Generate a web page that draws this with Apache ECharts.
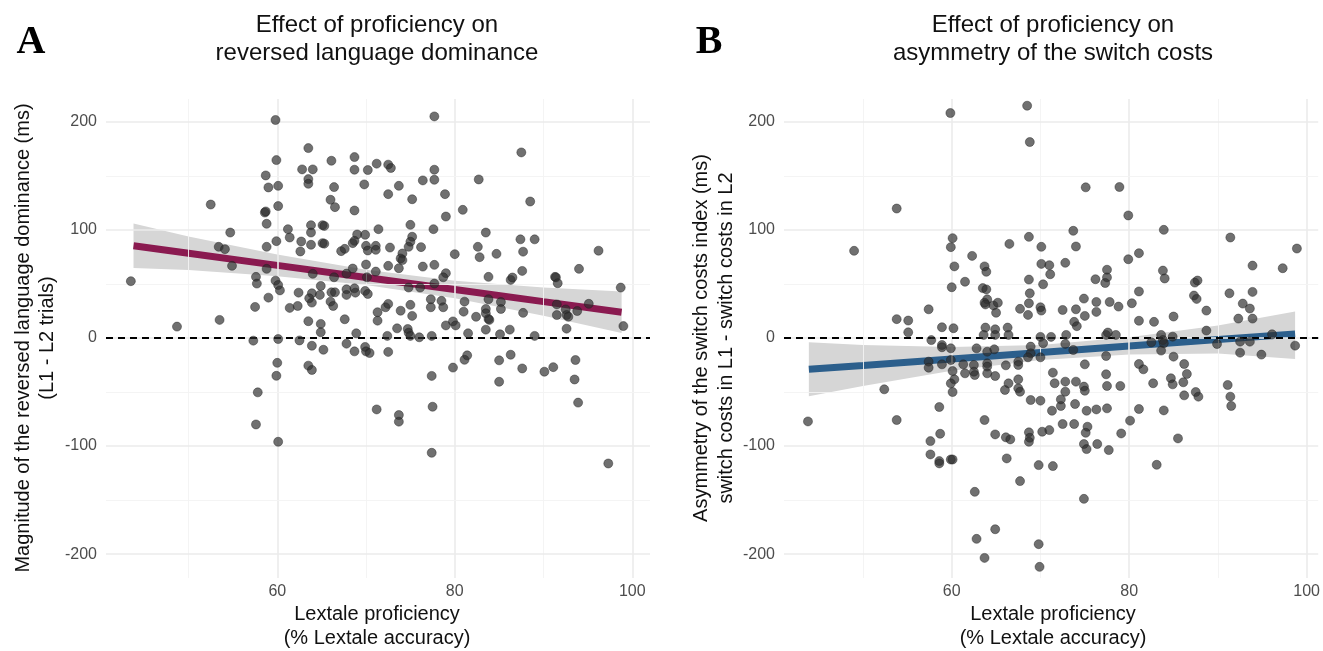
<!DOCTYPE html>
<html><head><meta charset="utf-8">
<script src="https://cdn.jsdelivr.net/npm/echarts@6/dist/echarts.min.js"></script>
<style>html,body{margin:0;padding:0;background:#fff}#c{width:1323px;height:651px}</style>
</head><body><div id="c"></div>
<script>
// ---------- DATA ----------
const pointsA = [
[59.8,201.6],[59.9,164.5],[58.7,150.3],[59.0,139.2],[60.1,140.7],[60.1,122],[52.5,123.4],[58.6,116],[58.7,117],[58.8,105.6],
[54.7,97.5],[53.4,84.3],[54.1,82.1],[58.8,84.3],[59.9,89.5],[54.9,66.7],[58.8,63.9],[43.5,52.5],[57.6,56.5],[57.7,50.3],
[59.8,53],[60.1,49],[60.3,44],[59.0,37.3],[57.5,28.7],[53.5,16.7],[48.7,10.5],[57.3,-2.5],[60.1,-1],[60,-23],
[59.9,-35],[57.8,-50.3],[57.6,-80],[60.1,-96],
[77.7,204.9],[63.5,175.6],[62.8,155.9],[64.0,155.9],[66.1,163.9],[68.7,167.3],[68.7,155.6],[71.2,161.2],[72.5,160.3],[72.8,157.2],
[70.2,155.3],[63.5,146.9],[63.5,142.6],[66.4,139.5],[69.8,142],[73.7,140.7],[76.4,145.7],[77.7,155.6],[77.7,146.3],[72.5,133],
[66,127.8],[66.5,121],[68.7,117.9],[75.2,128.3],[78.9,133],[79,112.3],[80.9,118.5],[61.2,100.6],[61.4,92.9],[63.8,104.3],
[63.8,97.5],[65.1,104.3],[65.3,103.6],[62.7,89.2],[62.6,80],[63.8,86.2],[65.1,87.7],[65.3,87.2],[67.2,80.3],[67.6,82.4],
[69,95.7],[68.7,89.8],[68.5,87.7],[69.9,95.4],[71.4,100.6],[70.0,85.2],[70.2,80.9],[71.1,85.2],[71.1,81.5],[72.7,83.6],
[75,104.6],[75.2,93.6],[75.0,89],[74.8,84.3],[74.1,78.1],[73.9,73.5],[74.1,72],[76.2,84],[77.6,100.6],[80,77.5],
[64,59.3],[66.4,56.1],[67.8,59.5],[68.5,64.2],[70.0,67.9],[70.1,56.1],[71.1,61.4],[72.5,66.7],[73.7,64.5],[76.4,66],
[77.7,67.6],[79,59.9],[78.7,56.1],[77.7,50.3],[64.9,48.1],[62.4,41.9],[63.9,41.3],[63.6,36.7],[63.9,32.7],[64.8,39.8],
[66.1,42.2],[66.5,42.2],[66,33.6],[66.3,29.6],[67.8,45],[67.8,39.8],[68.7,45.9],[68.8,41.9],[69.9,43.5],[70.2,40.7],
[74.8,46.6],[76.1,46.6],[77.3,35.8],[77.3,28.4],[78.5,34.3],[78.7,28.4],[81.1,33.6],[81,24.3],[61.4,27.8],[62.3,29.6],
[71.3,23.8],[72.2,28.4],[72.5,31.5],[71.3,16],[73.9,25.2],[75,30.6],[75.2,20.4],[63.5,15.5],[64.9,13],[64.9,5.3],
[67.6,17.3],[68.9,4.3],[73.5,8.9],[74.7,8.3],[74.8,4.9],[75,1.9],[76,0.6],[77.4,1.9],[79,11.6],[79.8,15.3],
[80.1,11.6],[72.4,1.9],[62.5,-2.3],[63.9,-7.2],[65.2,-10.9],[67.8,-5.3],[68.7,-12.4],[69.9,-8.3],[70,-12.4],[70.4,-13.9],
[72.5,-12.9],[63.5,-25.6],[63.9,-29.6],[79.8,-27.4],[81.1,-20.2],[77.4,-35.1],[71.2,-66.1],[73.7,-71.3],[73.7,-77.4],[77.5,-63.6],
[77.4,-106.2],
[87.5,171.6],[82.7,146.6],[88.5,126.2],[83.5,97.5],[82.6,84.3],[82.8,74.7],[84.7,77.8],[87.4,91.2],[89,91.2],[87.7,79.8],
[96.2,80.7],[83.8,56.5],[86.3,53.7],[86.5,55.9],[87.6,62],[91.3,56.5],[91.4,56.0],[91.6,50.6],[94,63.9],[98.7,46.6],
[82.4,19.6],[83.5,26.8],[83.5,22.8],[83.8,17.6],[83.9,16.7],[83.8,35.8],[85.2,33.3],[85.2,26.8],[87.7,23.2],[91.5,31],
[91.5,21.2],[92.5,26.4],[92.6,21.2],[92.8,19.6],[93.8,24.9],[95.1,31.6],[99,11],[81.5,4.3],[83.5,7.7],[85.1,3.4],
[86.2,7.7],[89,1.9],[92.6,8.6],[81.4,-16.1],[85.0,-20.7],[86.3,-15.5],[87.6,-28.2],[85,-40.5],[90.1,-31.2],[91.1,-27],
[93.6,-20.4],[93.5,-38.4],[93.9,-59.8],[97.3,-116.1]
];
const pointsB = [
[59.85,208],[53.8,119.7],[49,80.6],[60.1,92.3],[59.9,84],[60.3,66.2],[60,46.9],[57.4,26.5],[53.8,17.4],[55.1,16.1],
[55.1,5.2],[58.9,9.9],[60.2,9],[57.7,-2],
[58.9,-6.5],[58.9,-8.6],[59.9,-9.6],[57.4,-21.9],[57.4,-27.5],[58.9,-24.4],[59.9,-20.4],[60.1,-30.6],[60.3,-38.3],[59.9,-42],
[60.1,-50],[52.4,-47.5],[58.6,-63.9],[53.8,-75.9],[43.8,-77.2],[58.7,-88.6],[57.6,-95.4],[57.6,-107.7],[58.6,-113.9],[58.6,-116],
[59.9,-112.4],[60.1,-112.4],
[68.5,214.8],[68.8,181.2],[75.1,139.3],[78.9,139.6],[79.9,113.3],[68.7,93.5],[66.5,87],[62.3,75.9],[63.7,66.2],[63.9,61.2],
[70.1,84.3],[70.1,68.5],[71,67.3],[71.1,58.9],[70.3,49.6],[68.7,54],[68.8,41.3],[73.7,99.1],[74,84.6],[72.8,69.5],
[77.5,63.1],[77.5,56],[77.3,50.8],[76.2,54.3],[79.9,72.8],[61.5,52],[63.5,46.1],[63.9,44.9],[64,35.7],[63.7,32.6],
[63.8,31],[64.7,30.1],[65.2,32.6],[65,23.3],[67.7,26.9],[68.7,32.1],[68.6,21.3],[70,28.4],[70.1,25.3],[72.5,25.9],
[74,26.5],[74.9,36.4],[75,20.4],[76.3,33.3],[76.3,24.1],[77.8,33.3],[78.8,29],[80.3,32.1],[73.8,14.9],[74.1,10.9],
[63.8,9.6],[63.6,2.8],[64.9,8],[64.9,2.8],[66.3,9.6],[66.4,2.8],[70,1],[71.2,1],[72.9,2.8],[77.4,2.8],
[77.6,5],[78.5,2.8],
[70.3,-4.9],[72.8,-5.5],[73.7,-11.1],[68.9,-8],[68.9,-14.2],[70,-17.9],[68.6,-17.9],[62.8,-9.6],[64,-12.7],[64.8,-10.5],
[64,-23.5],[64,-26.5],[61.3,-24.4],[61.5,-32.7],[62.5,-25],[62.5,-31.2],[62.6,-34.3],[64,-32.7],[64.9,-35.2],[66.1,-25.3],
[67.5,-21.9],[67.5,-25],[66,-48.1],[66.4,-42],[67.5,-38.3],[67.5,-46.6],[67.7,-49.7],[71.4,-32.1],[71.6,-41.9],[72.8,-40.4],
[74,-40.4],[74.9,-45],[75,-48.8],[75,-24.4],[77.4,-16.7],[77.4,-33.6],[77.5,-44.4],[79,-44.4],[68.9,-57.4],[70,-58],
[71.3,-67.3],[72.3,-62.9],[72.3,-56.8],[72.8,-49.7],[73.9,-61.1],[75.2,-67.3],[76.3,-66.1],[77.5,-65.1],[63.7,-75.9],[64.9,-89.2],
[66.1,-91.9],[66.6,-93.8],[68.7,-87.3],[68.8,-92.3],[68.7,-96],[70.2,-86.7],[71,-85.2],[72.5,-79.6],[73.8,-79.6],[75.3,-82.1],
[75.1,-87.7],[74.9,-98.1],[75.2,-102.8],[76.4,-98.1],[77.7,-103.7],[79.1,-88.3],[80.1,-76.5],[66.2,-111.4],[69.8,-117.6],[71.4,-118.5],
[67.7,-132.4],[62.6,-142.3],[74.9,-148.8],[64.9,-176.9],[62.8,-185.8],[69.8,-190.7],[63.7,-203.4],[69.9,-211.7],
[83.9,100],[81.1,78.4],[83.8,62.3],[84,55],[87.4,51.2],[87.7,53.1],[87.3,39.2],[87.6,36.1],[88.7,25.3],[81.1,43],
[81.1,15.9],[82.8,14.9],[85,19.8],[91.4,92.9],[93.9,66.9],[97.3,64.5],[98.9,82.7],[91.3,41.3],[92.8,31.8],[93.9,42.6],
[93.6,27.2],[92.3,17.9],[93.9,17.9],[88.7,6.8],[96.1,3.4],[83.6,2.8],[84.9,1.2],
[83.8,-1.9],[83.9,-4.9],[82.5,-4],[83.6,-11.7],[89.9,-5.6],[92.5,-3.4],[93.6,-3.4],[92.5,-13.6],[94.9,-15.4],[98.7,-7.1],
[85,-17.3],[81.1,-24.1],[81.6,-29],[82.7,-41.9],[86.2,-24.1],[86.5,-33.3],[86.1,-41],[84.7,-37.3],[84.9,-42.9],[86.2,-53.1],
[87.5,-50],[87.8,-54.3],[91.1,-43.5],[91.4,-54.3],[91.5,-62.9],[81.1,-65.7],[83.9,-67],[85.5,-92.9],[83.1,-117.3]
];

// fitted regression lines and confidence bands
const fitA_x  = [43.8, 50, 60, 70, 80, 90, 98.8];
const fitA_y  = [85.2, 78.3, 67.1, 56.0, 44.8, 33.6, 23.8];
const fitA_lo = [64.6, 62.8, 57.1, 49.0, 36.8, 20.6, 4.6];
const fitA_hi = [105.8, 93.8, 77.1, 63.0, 52.8, 46.6, 43.0];
const fitB_x  = [43.9, 50, 60, 70, 80, 90, 98.7];
const fitB_y  = [-29.0, -25.4, -19.4, -13.4, -7.4, -1.4, 3.7];
const fitB_lo = [-54.0, -44.4, -30.4, -20.4, -15.4, -14.4, -19.5];
const fitB_hi = [-4.0, -6.4, -8.4, -6.4, 0.6, 11.6, 24.5];

const xTicksMajor = [60, 80, 100];
const xTicksMinor = [50, 70, 90];
const yTicksMajor = [-200, -100, 0, 100, 200];
const yTicksMinor = [-150, -50, 50, 150];

const titleA = ['Effect of proficiency on', 'reversed language dominance'];
const titleB = ['Effect of proficiency on', 'asymmetry of the switch costs'];
const yNameA = ['Magnitude of the reversed language dominance (ms)', '(L1 - L2 trials)'];
const yNameB = ['Asymmetry of the switch costs index (ms)', 'switch costs in L1 - switch costs in L2'];
const xName = ['Lextale proficiency', '(% Lextale accuracy)'];

// ---------- CHART ----------
const FONT = '"Liberation Sans", Arial, sans-serif';
const chart = echarts.init(document.getElementById('c'));

const gridCfg = [
  {left: 106, top: 99, width: 544, height: 479},
  {left: 784, top: 99, width: 539, height: 479}
];
const xRange = [[40.7, 102.0], [41.1, 101.3]];
const yRange = [-222, 221];

function xAxisCfg(i) {
  return {
    type: 'value', gridIndex: i, min: xRange[i][0], max: xRange[i][1],
    axisLine: {show: false}, axisTick: {show: false}, splitLine: {show: false},
    axisLabel: {customValues: xTicksMajor, color: '#4d4d4d', fontSize: 16, fontFamily: FONT, margin: 6}
  };
}
function yAxisCfg(i) {
  return {
    type: 'value', gridIndex: i, min: yRange[0], max: yRange[1],
    axisLine: {show: false}, axisTick: {show: false}, splitLine: {show: false},
    axisLabel: {customValues: yTicksMajor, color: '#4d4d4d', fontSize: 16, fontFamily: FONT, margin: 9}
  };
}

function gridSeries(i) {
  const lines = [];
  xTicksMajor.forEach(v => lines.push({xAxis: v, lineStyle: {color: '#ebebeb', width: 1.6, type: 'solid'}}));
  xTicksMinor.forEach(v => lines.push({xAxis: v, lineStyle: {color: '#f3f3f3', width: 0.9, type: 'solid'}}));
  yTicksMajor.forEach(v => lines.push({yAxis: v, lineStyle: {color: '#ebebeb', width: 1.6, type: 'solid'}}));
  yTicksMinor.forEach(v => lines.push({yAxis: v, lineStyle: {color: '#f3f3f3', width: 0.9, type: 'solid'}}));
  return {
    type: 'line', xAxisIndex: i, yAxisIndex: i, data: [], symbol: 'none', silent: true, z: 1,
    markLine: {symbol: ['none', 'none'], silent: true, animation: false, label: {show: false}, data: lines}
  };
}
function zeroSeries(i) {
  return {
    type: 'line', xAxisIndex: i, yAxisIndex: i, data: [], symbol: 'none', silent: true, z: 6,
    markLine: {symbol: ['none', 'none'], silent: true, animation: false, label: {show: false},
      data: [{yAxis: 0, lineStyle: {color: '#000', width: 1.8, type: [7, 5]}}]}
  };
}
function bandSeries(i, fx, lo, hi) {
  return {
    type: 'custom', xAxisIndex: i, yAxisIndex: i, silent: true, z: 3,
    data: fx.map((x, k) => [x, lo[k], hi[k]]),
    encode: {x: 0, y: [1, 2]},
    renderItem: function (params, api) {
      if (params.dataIndex !== 0) return null;
      const pts = [];
      for (let k = 0; k < fx.length; k++) pts.push(api.coord([fx[k], hi[k]]));
      for (let k = fx.length - 1; k >= 0; k--) pts.push(api.coord([fx[k], lo[k]]));
      return {type: 'polygon', shape: {points: pts}, style: {fill: '#d6d6d6'}};
    }
  };
}
function fitSeries(i, fx, fy, color) {
  return {
    type: 'line', xAxisIndex: i, yAxisIndex: i, data: fx.map((x, k) => [x, fy[k]]),
    symbol: 'none', smooth: false, silent: true, z: 4,
    lineStyle: {color: color, width: 7, cap: 'butt'}
  };
}
function scatterSeries(i, pts) {
  return {
    type: 'scatter', xAxisIndex: i, yAxisIndex: i, data: pts, symbolSize: 9, z: 8,
    itemStyle: {color: 'rgba(45,45,45,0.85)', borderColor: 'rgba(30,30,30,0.9)', borderWidth: 0.6}
  };
}

function txt(x, y, text, font, opts) {
  return Object.assign({
    type: 'text', x: x, y: y, silent: true,
    style: {text: text, font: font, fill: (opts && opts.fill) || '#111', align: 'center', verticalAlign: 'middle'}
  }, opts && opts.rotation ? {rotation: opts.rotation} : {});
}

const graphics = [
  txt(31, 43, 'A', 'bold 40px "Liberation Serif", serif', {fill: '#000'}),
  txt(709, 43, 'B', 'bold 40px "Liberation Serif", serif', {fill: '#000'}),
  txt(377, 25, titleA[0], '24px ' + FONT),
  txt(377, 53, titleA[1], '24px ' + FONT),
  txt(1053, 25, titleB[0], '24px ' + FONT),
  txt(1053, 53, titleB[1], '24px ' + FONT),
  txt(23, 338, yNameA[0], '20px ' + FONT, {rotation: Math.PI / 2}),
  txt(47, 338, yNameA[1], '20px ' + FONT, {rotation: Math.PI / 2}),
  txt(701, 338, yNameB[0], '20px ' + FONT, {rotation: Math.PI / 2}),
  txt(726, 338, yNameB[1], '20px ' + FONT, {rotation: Math.PI / 2}),
  txt(377, 614, xName[0], '20px ' + FONT),
  txt(377, 638, xName[1], '20px ' + FONT),
  txt(1053, 614, xName[0], '20px ' + FONT),
  txt(1053, 638, xName[1], '20px ' + FONT)
];

chart.setOption({
  animation: false,
  backgroundColor: '#ffffff',
  grid: gridCfg,
  xAxis: [xAxisCfg(0), xAxisCfg(1)],
  yAxis: [yAxisCfg(0), yAxisCfg(1)],
  graphic: graphics,
  series: [
    gridSeries(0), gridSeries(1),
    bandSeries(0, fitA_x, fitA_lo, fitA_hi), bandSeries(1, fitB_x, fitB_lo, fitB_hi),
    fitSeries(0, fitA_x, fitA_y, '#8a1a50'), fitSeries(1, fitB_x, fitB_y, '#2c5f8c'),
    zeroSeries(0), zeroSeries(1),
    scatterSeries(0, pointsA), scatterSeries(1, pointsB)
  ]
});
</script>
</body></html>
